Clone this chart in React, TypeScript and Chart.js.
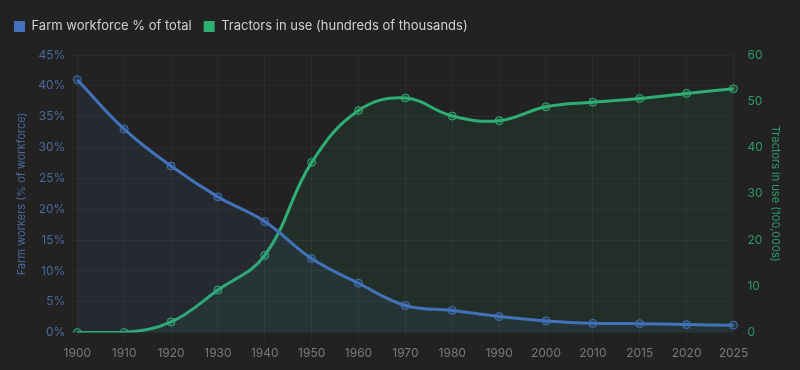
import React, { useEffect, useRef } from "react";
import { Chart, registerables } from "chart.js";

Chart.register(...registerables);

const years = ["1900", "1910", "1920", "1930", "1940", "1950", "1960", "1970", "1980", "1990", "2000", "2010", "2015", "2020", "2025"];
const farmWorkforce = [41, 33, 27, 22, 18, 12, 8, 4.4, 3.6, 2.6, 1.9, 1.5, 1.45, 1.3, 1.2];
const tractors = [0, 0, 2.3, 9.2, 16.7, 36.8, 48, 50.7, 46.8, 45.8, 48.8, 49.8, 50.6, 51.7, 52.7];
const pctTicks = [0, 5, 10, 15, 20, 25, 30, 35, 40, 45];

const BLUE = "#4272ba";
const GREEN = "#2fae74";

const legendGap = {
  id: "legendGap",
  beforeInit(chart: any) {
    const origFit = chart.legend.fit;
    chart.legend.fit = function () {
      origFit.bind(chart.legend)();
      this.height += 12;
    };
  },
};

export default function App() {
  const ref = useRef<HTMLCanvasElement>(null);
  useEffect(() => {
    document.body.style.margin = "0";
    document.body.style.background = "#222222";
    const ctx = ref.current!.getContext("2d")!;
    const chart = new Chart(ctx, {
      type: "line",
      data: {
        labels: years,
        datasets: [
          {
            label: "Farm workforce % of total",
            data: farmWorkforce,
            yAxisID: "y",
            borderColor: BLUE,
            backgroundColor: "rgba(66,114,186,0.10)",
            pointBackgroundColor: "rgba(66,114,186,0.25)",
            pointBorderColor: BLUE,
            borderWidth: 3,
            pointRadius: 4,
            pointBorderWidth: 1,
            fill: "origin",
            tension: 0.4,
          },
          {
            label: "Tractors in use (hundreds of thousands)",
            data: tractors,
            yAxisID: "y1",
            borderColor: GREEN,
            backgroundColor: "rgba(47,174,116,0.09)",
            pointBackgroundColor: "rgba(47,174,116,0.25)",
            pointBorderColor: GREEN,
            borderWidth: 3,
            pointRadius: 4,
            pointBorderWidth: 1,
            fill: "origin",
            tension: 0.4,
          },
        ],
      },
      plugins: [legendGap],
      options: {
        animation: false,
        responsive: false,
        maintainAspectRatio: false,
        layout: { padding: { left: 2, right: 8, top: 8, bottom: 3 } },
        plugins: {
          legend: {
            position: "top",
            align: "start",
            labels: {
              color: "#d0d0d0",
              boxWidth: 11,
              boxHeight: 11,
              padding: 12,
              font: { family: "Inter", size: 13 },
              generateLabels: (c: any) =>
                c.data.datasets.map((d: any, i: number) => ({
                  text: d.label,
                  fillStyle: d.borderColor,
                  strokeStyle: d.borderColor,
                  lineWidth: 0,
                  fontColor: "#d0d0d0",
                  hidden: false,
                  datasetIndex: i,
                })),
            },
          },
          tooltip: { enabled: false },
        },
        scales: {
          x: {
            offset: false,
            grid: { color: "rgba(255,255,255,0.045)" },
            border: { display: false },
            ticks: { color: "#7a7a7a", font: { family: "Inter", size: 12 }, padding: 6 },
          },
          y: {
            type: "linear",
            position: "left",
            min: 0,
            max: 45,
            afterBuildTicks: (axis: any) => {
              axis.ticks = pctTicks.map((v) => ({ value: v }));
            },
            grid: { color: "rgba(255,255,255,0.045)" },
            border: { display: false },
            ticks: {
              color: "#4a6a9c",
              padding: 4,
              font: { family: "Inter", size: 12 },
              callback: (v: any) => v + "%",
            },
            title: {
              display: true,
              text: "Farm workers (% of workforce)",
              color: "#4a6a9c",
              padding: { top: 13, bottom: 6 },
              font: { family: "Inter", size: 11 },
            },
          },
          y1: {
            type: "linear",
            position: "right",
            min: 0,
            max: 60,
            grid: { drawOnChartArea: false },
            border: { display: false },
            ticks: {
              color: "#2f9a68",
              stepSize: 10,
              padding: 6,
              font: { family: "Inter", size: 12 },
            },
            title: {
              display: true,
              text: "Tractors in use (100,000s)",
              color: "#2f9a68",
              padding: { top: 10, bottom: 0 },
              font: { family: "Inter", size: 11 },
            },
          },
        },
      },
    });
    return () => chart.destroy();
  }, []);
  return (
    <div style={{ width: 800, height: 370, background: "#222222" }}>
      <canvas ref={ref} width={800} height={370} />
    </div>
  );
}
